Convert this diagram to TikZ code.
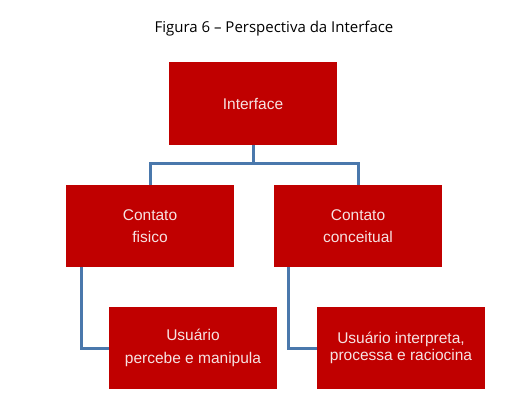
\documentclass[tikz,border=0pt]{standalone}
\usepackage{fontspec}
\setmainfont{Liberation Sans}
\newfontfamily\capfont{Open Sans}
\definecolor{boxred}{HTML}{C00000}
\definecolor{boxtext}{HTML}{F6E2E2}
\definecolor{connblue}{HTML}{4A78AC}
\tikzset{
  redbox/.style={fill=boxred, draw=none, text=boxtext, align=center,
    minimum width=168pt, minimum height=83pt, inner sep=0pt,
    font=\fontsize{15.5}{22.5}\selectfont},
  conn/.style={draw=connblue, line width=3pt}
}
\begin{document}
\begin{tikzpicture}[x=1pt,y=-1pt]
\useasboundingbox[fill=white] (0,0) rectangle (516,409);
\node[font=\capfont\fontsize{15}{18}\selectfont, text=black] (cap) at (274,29) {Figura 6 – Perspectiva da Interface};
\node[redbox] (top) at (253,103.5) {Interface};
\node[redbox, minimum height=82pt] (l) at (150,226) {Contato\\fisico};
\node[redbox, minimum height=82pt] (r) at (358,226) {Contato\\conceitual};
\node[redbox, minimum height=82pt] (bl) at (193,348) {Usuário\\percebe e manipula};
\node[redbox, minimum height=82pt, font=\fontsize{15.5}{17.5}\selectfont] (br) at (401,348) {Usuário interpreta,\\processa e raciocina};
\coordinate (j) at (253,163);
\draw[conn] (top.south) -- (j);
\draw[conn] (l.north) |- (j) -| (r.north);
\draw[conn] ([xshift=16pt]l.south west) |- (bl.west);
\draw[conn] ([xshift=15pt]r.south west) |- (br.west);
\end{tikzpicture}
\end{document}
